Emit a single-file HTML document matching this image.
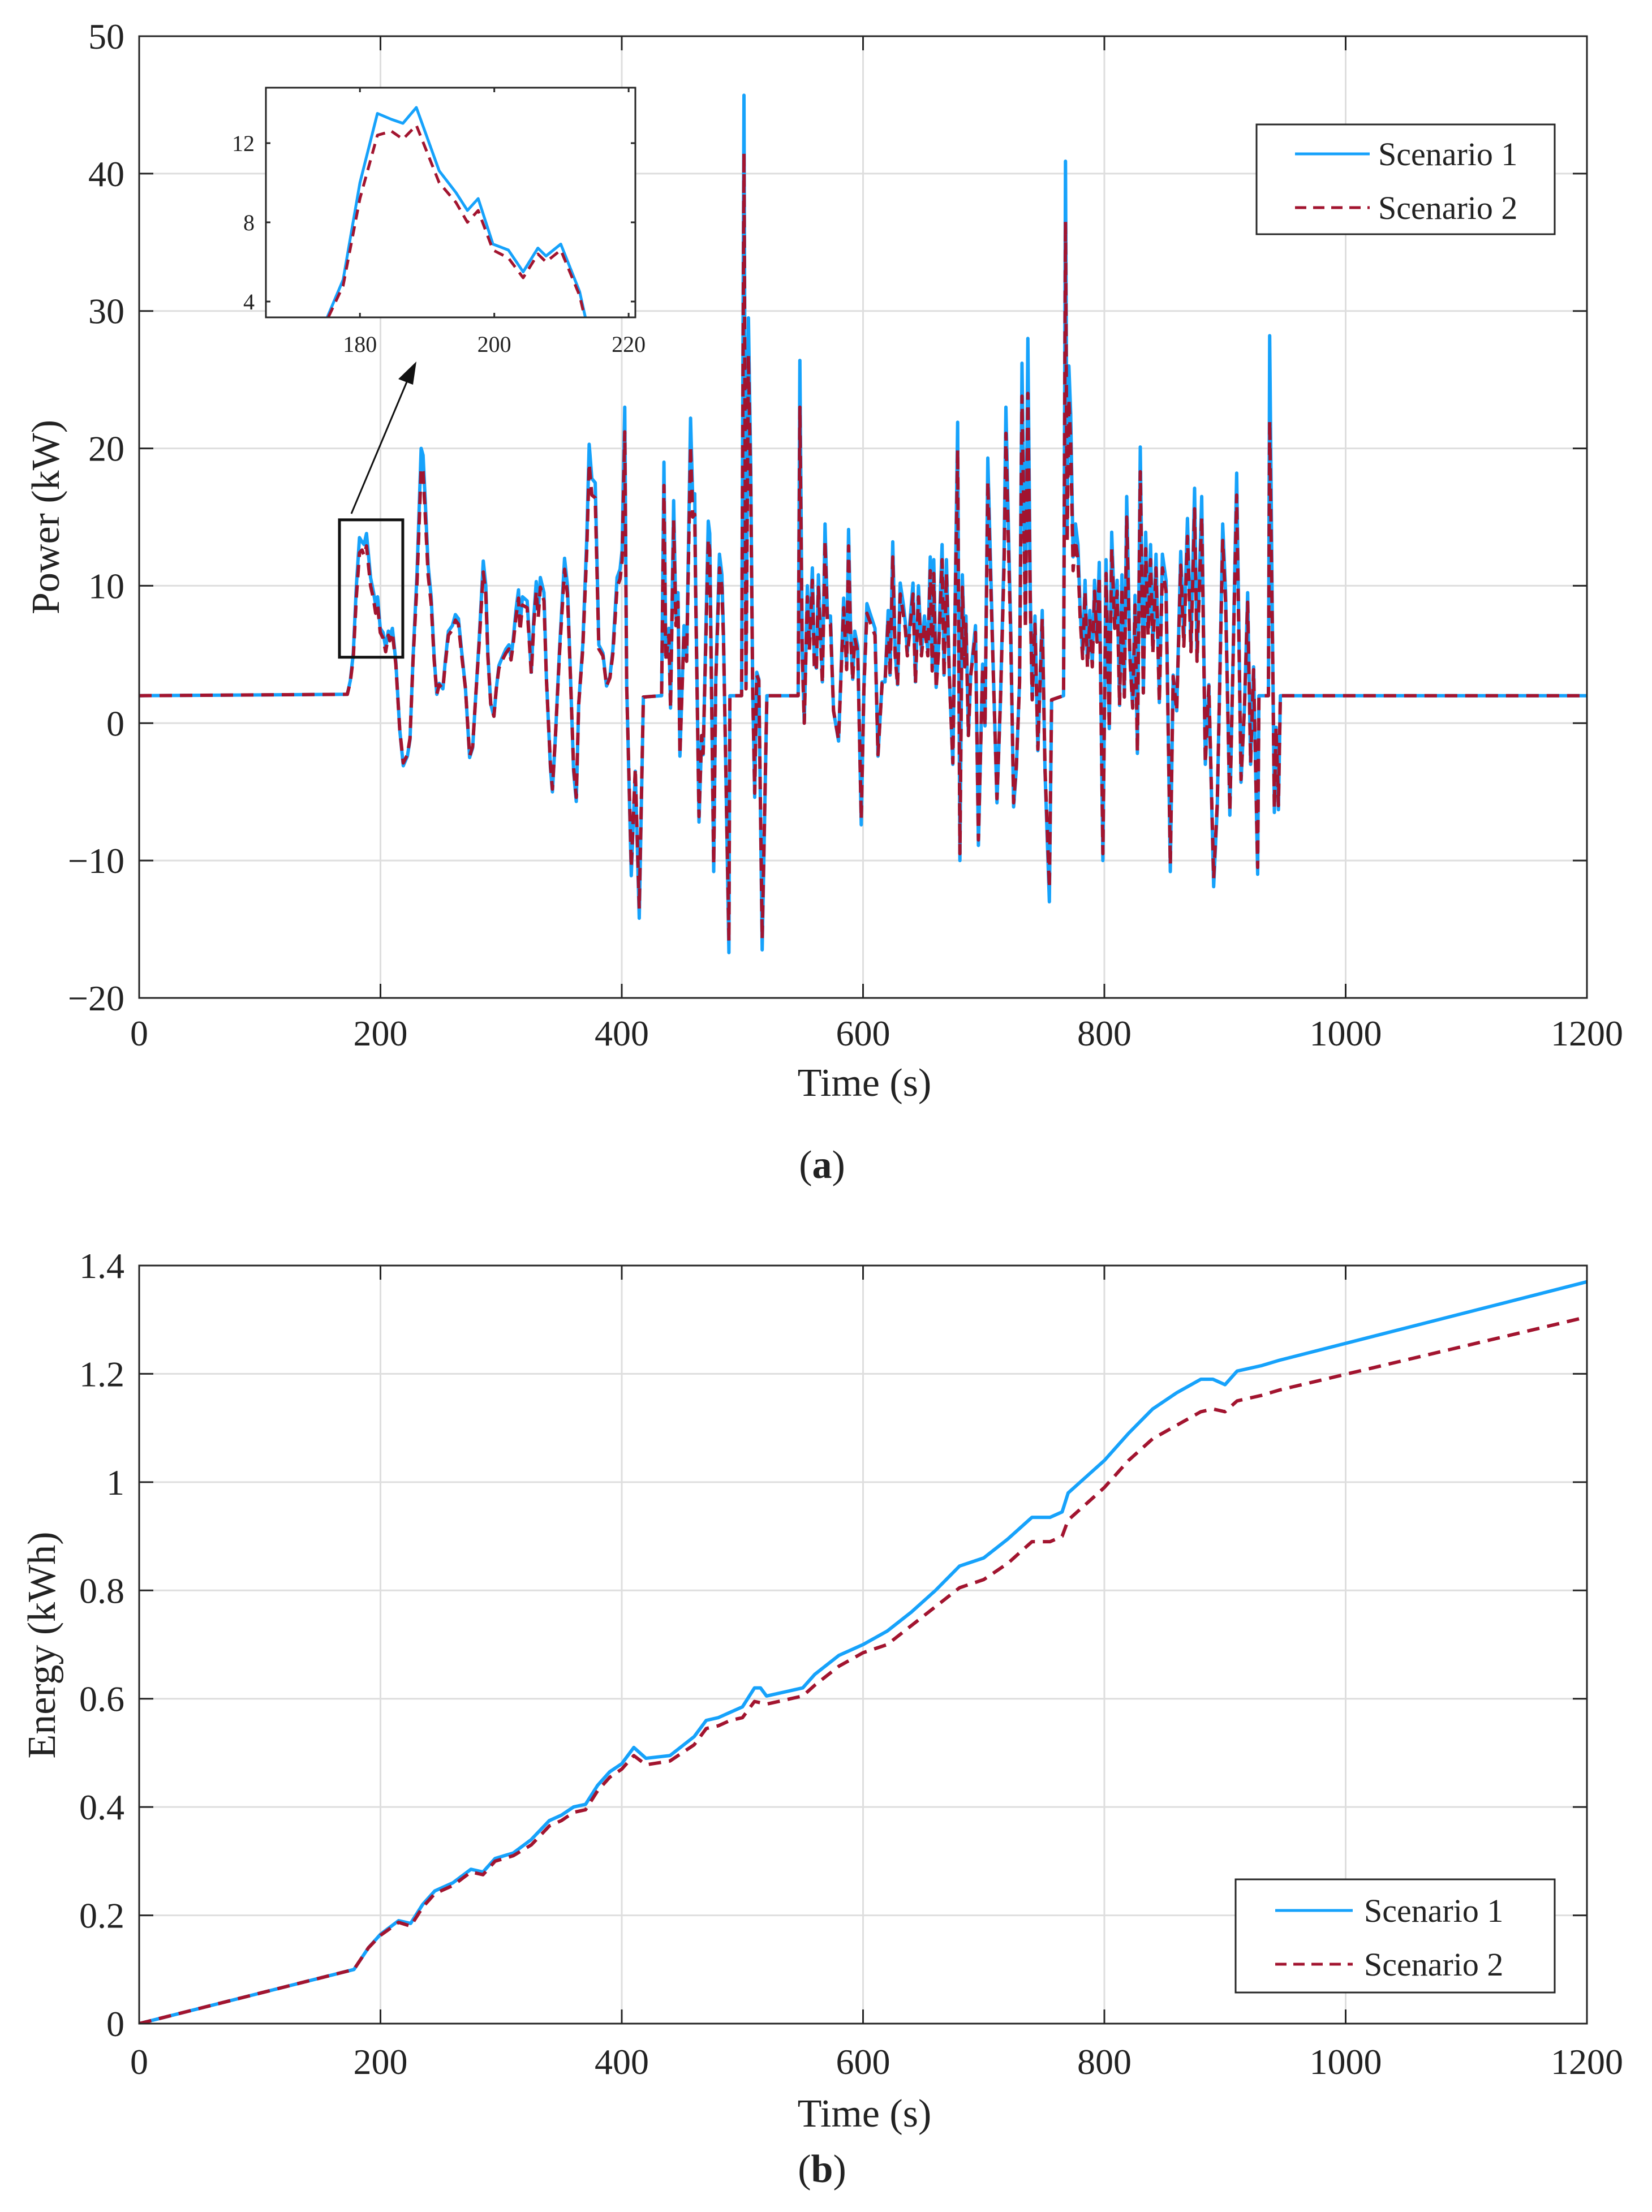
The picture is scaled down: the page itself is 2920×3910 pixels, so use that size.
<!DOCTYPE html>
<html><head><meta charset="utf-8"><style>
html,body{margin:0;padding:0;background:#fff;}
svg{display:block;font-family:"Liberation Serif",serif;}
</style></head><body>
<svg id="fig" width="2920" height="3910" viewBox="0 0 2920 3910" xmlns="http://www.w3.org/2000/svg"></svg>
<script>
// ---- Panel (a) data: power ----
const timePower = [
0,172.5,175,177.5,180,182.6,184.7,186.4,188.4,191.8,
194.3,196,197.6,199.8,202.1,204.3,206.5,207.7,209.9,212.7,
216,218.9,222.3,224.5,227,230.3,233.7,235.3,237,239.5,
242,244.5,246.7,248.7,251.7,253.7,256.3,259.6,262.1,264.6,
267.1,270.5,273.9,276.4,278.9,281.9,285.2,287.3,289,291.4,
294,296,298.2,301,304,306.5,308.2,309.9,312.4,314.4,
315.7,317.7,321.6,325,327.1,329.1,330.8,332.5,335.5,337.5,
340.9,342.5,345,348.4,352.6,355,357.6,360.1,362.3,364.3,
367.7,371,373,375.2,378,381,384.4,387.4,390.2,392.7,
396.1,398.6,400.3,402.5,404.1,404.8,407.9,411.2,414.5,417.9,
433,435,436.5,439,440.4,443,444.9,446.6,448.2,451.6,
453.8,457,458.8,460.5,461.2,464,466.2,467.5,471.7,472.9,
476.2,477.9,481,483,484.3,488.8,489.6,499.3,501.3,503,
505,506.9,508.5,510.2,511.9,513.6,516.4,520.3,546.2,547.6,
549.6,551.3,553.8,555.5,558,559.6,561.3,563,566.3,568.5,
570.5,573,575.5,579.7,583.9,586.4,588,589.7,591.4,593.1,
595.6,598.5,600.7,603.2,606.5,609.9,612.4,615.8,618.2,620.8,
622.4,624.6,626.6,628.6,630.8,633.3,635,636.7,638.4,641.4,
643.4,645.9,648.4,650.9,653.7,655.7,657.3,658.6,660.6,662.6,
665.5,667.1,669.1,671.5,674.4,676.4,678.4,680.3,682.3,684.3,
685.3,687.3,689.2,693.2,695.6,699.1,701.1,703.4,705.4,708,
711,713.9,716.9,718.4,720.8,722.4,724.8,727.1,729.7,731.7,
733.6,734.6,736.6,738.6,740.2,742.5,744.9,748.5,750.8,754.4,
756.3,766.2,767.8,769.2,770.6,772.1,774.1,776.1,778.1,780,
782,784,786,788,790,791.9,793.9,795.8,798.8,801.4,
804.1,806.1,808.6,810.6,812.6,814.6,816.6,818.5,821.1,823.5,
825.4,827.4,829.8,832.3,834.3,836.3,838.3,840.2,842.8,845.6,
848.1,851.1,854.7,857,860,863.3,865.9,868.9,871.8,874.8,
876.8,880.7,883.7,886.6,890.6,893.6,898.1,900.5,904,906.4,
909.7,913.3,916.2,918.8,921.2,923.7,927.1,928.1,936,937,
939.5,940.9,942.3,944.3,945.9,1200];
const powerScenario1 = [
2,2.1,3.1,5.1,10,13.5,13.2,13,13.8,10.6,
9.5,8.6,9.2,6.9,6.6,5.5,6.7,6.3,6.9,4.5,
-0.5,-3.1,-2.4,-1.2,4.8,10.9,20,19.5,16.4,11.5,
9.2,4.8,2.1,2.9,2.5,4.5,6.7,7.1,7.9,7.6,
5.4,2.5,-2.5,-1.8,1.9,6.3,11.8,10,5.1,1.4,
0.5,2.5,4.2,4.8,5.4,5.7,4.8,6,8.3,9.7,
7.1,9.2,8.9,3.7,7.7,10.3,8.2,10.6,9.5,3.4,
-3.3,-5,-1,5.4,12,10,3.1,-3.5,-5.7,1.4,
5.7,13.5,20.3,17.8,17.5,5.7,5.1,2.7,3.4,5.4,
10.6,11.2,12.6,23,2.8,0.2,-11.1,-3.5,-14.2,1.9,
2,19,4.8,6.9,1.1,16.2,7.6,9.5,-2.4,7.1,
4.8,22.2,16.4,16.7,10.4,-7.2,-0.9,-2.3,14.7,13.8,
-10.8,3,12.3,10.8,6.5,-16.7,2,2,45.7,2.6,
29.5,18.6,2.6,-5.4,3.7,3.2,-16.5,2,2,26.4,
5.2,0,10,5.7,11.3,4.4,4,10.8,3,14.5,
7.8,7.8,0.9,-1.3,9.1,4.1,14.1,6.9,3.2,6.7,
5.6,-7.4,2.6,8.7,7.8,6.9,-2.4,3,3,8.2,
3.5,13.2,5.2,2.8,10.2,8.7,7.4,5.2,6.9,10.2,
3,10,5.2,7.8,5.2,12.1,4,11.9,2.6,5.6,
13,3.5,11.9,3.5,-3,9.3,21.9,-10,10.8,4.3,
7.8,-0.9,3.5,7.1,-8.9,4.3,-0.2,19.3,12.5,3.7,
-5.8,1.7,12.5,23,13,6.9,-6.1,-3.3,3,26.2,
14.3,7.4,28,9.5,1.7,7.8,-2,8.2,-3.5,-13,
1.7,2,40.9,14.3,26,22.5,12.1,14.5,13,8.2,
5,10.4,4.3,8.2,4.3,10.4,6.3,11.7,-10,11.9,
-0.4,13.9,7.4,10.4,1.3,10.8,1.9,16.5,5.2,1.1,
9.3,-2.2,20.1,2.2,13.9,6.9,13,5.4,12.3,1.5,
12.3,10.4,-10.8,3.5,0.9,12.5,6,14.9,5.6,17.1,
4.8,16.5,-3,2.8,-11.9,-6.1,14.5,9.5,-6.7,3.5,
18.2,-4.3,1.3,9.5,-3,4.1,-11,2,2,28.2,
5.2,-6.5,-0.3,-6.3,2,2];
const powerScenario2 = [
2,2.1,3,4.8,9.2,12.4,12.6,12.2,12.9,10,
9,8,8.6,6.6,6.2,5.2,6.4,6,6.6,4.3,
-0.5,-2.9,-2.3,-1.1,4.6,10.2,18.6,18.3,15.4,10.8,
8.7,4.6,2.1,2.8,2.5,4.3,6.4,6.8,7.5,7.2,
5.1,2.5,-2.4,-1.7,1.9,6,11,9.4,4.9,1.4,
0.5,2.5,4,4.6,5.1,5.4,4.6,5.7,7.8,9.1,
6.7,8.6,8.4,3.6,7.2,9.6,7.7,9.9,8.9,3.3,
-3.1,-4.8,-1,5.1,11.2,9.4,3,-3.3,-5.4,1.4,
5.4,12.6,18.9,16.6,16.4,5.4,4.9,2.7,3.3,5.1,
9.9,10.5,11.8,21.2,2.7,0.2,-10.5,-3.3,-13.5,1.9,
2,17.3,4.5,6.4,1.1,14.8,7.1,8.8,-2.3,6.6,
4.5,20.2,15,15.2,9.6,-6.8,-0.9,-2.2,13.4,12.6,
-10.3,2.9,11.3,9.9,6.1,-15.9,2,2,41.5,2.5,
26.8,17,2.5,-5.1,3.5,3.1,-15.7,2,2,23,
4.9,0,9.2,5.3,10.4,4.2,3.8,9.9,2.9,13.3,
7.2,7.2,0.9,-1.2,8.4,3.9,12.9,6.4,3.1,6.2,
5.2,-7,2.5,8,7.2,6.4,-2.3,2.9,2.9,7.6,
3.4,12.1,4.9,2.7,9.4,8,6.9,4.9,6.4,9.4,
2.9,9.2,4.9,7.2,4.9,11.1,3.8,10.9,2.5,5.2,
11.9,3.4,10.9,3.4,-2.9,8.6,19.9,-9.5,9.9,4.1,
7.2,-0.9,3.4,6.6,-8.5,4.1,-0.2,17.6,11.5,3.5,
-5.5,1.7,11.5,21.1,11.9,6.4,-5.8,-3.1,2.9,23.8,
13.1,6.9,24,8.8,1.7,7.2,-1.9,7.6,-3.3,-12,
1.7,2,36.5,13.1,23.6,20.5,11.1,13.3,11.9,7.6,
4.7,9.6,4.1,7.6,4.1,9.6,5.9,10.7,-9.5,10.9,
-0.4,12.7,6.9,9.6,1.3,9.9,1.9,15,4.9,1.1,
8.6,-2.1,18.3,2.2,12.7,6.4,11.9,5.1,11.3,1.5,
11.3,9.6,-10.3,3.4,0.9,11.5,5.6,13.6,5.2,15.6,
4.5,15,-2.9,2.7,-11.3,-5.8,13.3,8.8,-6.4,3.4,
16.6,-4.1,1.3,8.8,-2.9,3.9,-10.5,2,2,22,
4.9,-6.2,-0.3,-6,2,2];
const powerXTicks = [0,200,400,600,800,1000,1200];
const powerYTicks = [-20,-10,0,10,20,30,40,50];
const insetXTicks = [180,200,220];
const insetYTicks = [4,8,12];

// ---- Panel (b) data: energy ----
const timeEnergy1 = [0,178,190,200,215,225,235,245,260,275,285,295,310,325,340,350,360,370,380,390,400,410,420,440,460,470,480,490,500,510,515,520,550,560,580,600,620,640,660,680,700,720,740,755,765,770,790,800,820,840,860,880,890,900,910,930,945,1200];
const energyScenario1 = [0,0.1,0.14,0.165,0.19,0.185,0.22,0.245,0.26,0.285,0.28,0.305,0.315,0.34,0.375,0.385,0.40,0.405,0.44,0.465,0.48,0.51,0.49,0.495,0.53,0.56,0.565,0.575,0.585,0.62,0.62,0.605,0.62,0.645,0.68,0.70,0.725,0.76,0.80,0.845,0.86,0.895,0.935,0.935,0.945,0.98,1.02,1.04,1.09,1.135,1.165,1.19,1.19,1.18,1.205,1.215,1.225,1.37];
const timeEnergy2 = [0,178,190,200,215,225,235,245,260,275,285,295,310,325,340,350,360,370,380,390,400,410,420,440,460,470,480,490,500,510,520,550,560,580,600,620,640,660,680,700,720,740,755,765,770,790,800,820,840,860,880,890,900,910,930,945,1200];
const energyScenario2 = [0,0.1,0.14,0.163,0.187,0.18,0.215,0.24,0.255,0.28,0.275,0.30,0.31,0.33,0.365,0.375,0.39,0.395,0.43,0.455,0.47,0.495,0.478,0.485,0.515,0.545,0.55,0.56,0.565,0.595,0.59,0.605,0.625,0.66,0.685,0.70,0.735,0.77,0.805,0.82,0.85,0.89,0.89,0.90,0.93,0.97,0.99,1.04,1.08,1.105,1.13,1.135,1.13,1.15,1.16,1.17,1.305];
const energyXTicks = [0,200,400,600,800,1000,1200];
const energyYTicks = [0,0.2,0.4,0.6,0.8,1,1.2,1.4];
const energyYLabels = ["0","0.2","0.4","0.6","0.8","1","1.2","1.4"];

const NS = "http://www.w3.org/2000/svg";
const svg = document.getElementById('fig');
const BLUE = "#16a2fb", RED = "#a2142f", AX = "#262626", GRID = "#dedede";
function mk(tag, attrs, parent) {
  const e = document.createElementNS(NS, tag);
  for (const k in attrs) e.setAttribute(k, attrs[k]);
  (parent || svg).appendChild(e);
  return e;
}
function fmtMinus(v){ return v < 0 ? "\u2212" + Math.abs(v) : String(v); }
function linScale(d0, d1, r0, r1){ return v => r0 + (v - d0) * (r1 - r0) / (d1 - d0); }

function drawAxesFrame(g, L, R, T, B, xs, ys, xt, yt, tickLen, prefix){
  xt.forEach(v => { const x = xs(v);
    const l = mk('line', {x1:x, x2:x, y1:T, y2:B, stroke:GRID, 'stroke-width':3}, g);
    
     });
  yt.forEach(v => { const y = ys(v);
    const l = mk('line', {x1:L, x2:R, y1:y, y2:y, stroke:GRID, 'stroke-width':3}, g);
    
     });
}
function drawFrameTicks(g, L, R, T, B, xs, ys, xt, yt, tickLen, prefix, sw){
  xt.forEach(v => { const x = xs(v);
    const t1 = mk('line', {x1:x, x2:x, y1:B, y2:B - tickLen, stroke:AX, 'stroke-width':sw}, g);
    
    
    const t2 = mk('line', {x1:x, x2:x, y1:T, y2:T + tickLen, stroke:AX, 'stroke-width':sw}, g);
    
     });
  yt.forEach(v => { const y = ys(v);
    const t1 = mk('line', {x1:L, x2:L + tickLen, y1:y, y2:y, stroke:AX, 'stroke-width':sw}, g);
    
    
    const t2 = mk('line', {x1:R, x2:R - tickLen, y1:y, y2:y, stroke:AX, 'stroke-width':sw}, g);
    
     });
  const fr = mk('rect', {x:L, y:T, width:R-L, height:B-T, fill:'none', stroke:AX, 'stroke-width':sw}, g);
  
  
}
function pathD(ts, vs, xs, ys){
  const n = Math.min(ts.length, vs.length);
  let d = "";
  for (let i = 0; i < n; i++) d += (i ? "L" : "M") + xs(ts[i]).toFixed(1) + "," + ys(vs[i]).toFixed(1);
  return d;
}
function text(g, x, y, str, size, anchor, name, extra){
  const t = mk('text', Object.assign({x:x, y:y, 'font-size':size, 'text-anchor':anchor, fill:'#222'}, extra || {}), g);
  t.textContent = str;
  
  
  return t;
}

// ================= Panel (a) =================
const A = {L:246, R:2805, T:64, B:1764};
const ax = linScale(0, 1200, A.L, A.R), ay = linScale(-20, 50, A.B, A.T);
const gA = mk('g', {});


mk('rect', {x:A.L, y:A.T, width:A.R-A.L, height:A.B-A.T, fill:'#fff'}, gA);
drawAxesFrame(gA, A.L, A.R, A.T, A.B, ax, ay, powerXTicks, powerYTicks, 25, 'power');
const cpA = mk('clipPath', {id:'clipA'}, gA);
mk('rect', {x:A.L, y:A.T, width:A.R-A.L, height:A.B-A.T}, cpA);
const s1a = mk('path', {d:pathD(timePower, powerScenario1, ax, ay), fill:'none', stroke:BLUE, 'stroke-width':6, 'stroke-linejoin':'round', 'clip-path':'url(#clipA)'}, gA);


const s2a = mk('path', {d:pathD(timePower, powerScenario2, ax, ay), fill:'none', stroke:RED, 'stroke-width':6, 'stroke-dasharray':'22 14', 'stroke-linejoin':'round', 'clip-path':'url(#clipA)'}, gA);


drawFrameTicks(gA, A.L, A.R, A.T, A.B, ax, ay, powerXTicks, powerYTicks, 25, 'power', 3);
powerXTicks.forEach(v => text(gA, ax(v), 1848, String(v), 64, 'middle', 'power-x-tick-label'));
powerYTicks.forEach(v => text(gA, 220, ay(v) + 22, fmtMinus(v), 64, 'end', 'power-y-tick-label'));
text(gA, 1528, 1937, 'Time (s)', 70, 'middle', 'power-x-axis-title');
text(gA, 0, 0, 'Power (kW)', 70, 'middle', 'power-y-axis-title', {transform:'translate(104,914) rotate(-90)'});
const capA = text(gA, 1453, 2082, '', 70, 'middle', 'panel-a-caption');
capA.innerHTML = '(<tspan font-weight="bold">a</tspan>)';

const zr = mk('rect', {x:ax(166), y:ay(14.8), width:ax(218.5)-ax(166), height:ay(4.8)-ay(14.8), fill:'none', stroke:'#111', 'stroke-width':5}, gA);


const arr = mk('line', {x1:621, y1:908, x2:722, y2:668, stroke:'#111', 'stroke-width':3}, gA);


const ah = mk('polygon', {points:'736,639 704,670 730,680', fill:'#111'}, gA);



// inset
const I = {L:470, R:1123, T:155, B:561};
const ix = linScale(166, 221, I.L, I.R), iy = linScale(3.2, 14.8, I.B, I.T);
const gI = mk('g', {});


const ibg = mk('rect', {x:I.L, y:I.T, width:I.R-I.L, height:I.B-I.T, fill:'#fff'}, gI);


const cpI = mk('clipPath', {id:'clipI'}, gI);
mk('rect', {x:I.L, y:I.T, width:I.R-I.L, height:I.B-I.T}, cpI);
const s1i = mk('path', {d:pathD(timePower, powerScenario1, ix, iy), fill:'none', stroke:BLUE, 'stroke-width':5, 'stroke-linejoin':'round', 'clip-path':'url(#clipI)'}, gI);


const s2i = mk('path', {d:pathD(timePower, powerScenario2, ix, iy), fill:'none', stroke:RED, 'stroke-width':5, 'stroke-dasharray':'18 12', 'stroke-linejoin':'round', 'clip-path':'url(#clipI)'}, gI);


drawFrameTicks(gI, I.L, I.R, I.T, I.B, ix, iy, insetXTicks, insetYTicks, 8, 'inset', 3);
insetXTicks.forEach(v => text(gI, ix(v), 622, String(v), 40, 'middle', 'inset-x-tick-label'));
insetYTicks.forEach(v => text(gI, 450, iy(v) + 14, String(v), 40, 'end', 'inset-y-tick-label'));

function legend(x, y, w, h, l1y, l2y, lx1, lx2, tx, prefix){
  const g = mk('g', {});
  
  
  const b = mk('rect', {x:x, y:y, width:w, height:h, fill:'#fff', stroke:AX, 'stroke-width':3}, g);
  
  
  const a1 = mk('line', {x1:lx1, x2:lx2, y1:l1y, y2:l1y, stroke:BLUE, 'stroke-width':5}, g);
  
  
  const a2 = mk('line', {x1:lx1, x2:lx2, y1:l2y, y2:l2y, stroke:RED, 'stroke-width':5, 'stroke-dasharray':'20 12'}, g);
  
  
  text(g, tx, l1y + 20, 'Scenario 1', 58, 'start', prefix + '-legend-label-1');
  text(g, tx, l2y + 20, 'Scenario 2', 58, 'start', prefix + '-legend-label-2');
}
legend(2221, 220, 527, 194, 272, 367, 2289, 2421, 2436, 'power');

// ================= Panel (b) =================
const Bx = {L:246, R:2805, T:2237, B:3577};
const bx = linScale(0, 1200, Bx.L, Bx.R), by = linScale(0, 1.4, Bx.B, Bx.T);
const gB = mk('g', {});


drawAxesFrame(gB, Bx.L, Bx.R, Bx.T, Bx.B, bx, by, energyXTicks, energyYTicks, 25, 'energy');
const cpB = mk('clipPath', {id:'clipB'}, gB);
mk('rect', {x:Bx.L, y:Bx.T, width:Bx.R-Bx.L, height:Bx.B-Bx.T}, cpB);
const e1 = mk('path', {d:pathD(timeEnergy1, energyScenario1, bx, by), fill:'none', stroke:BLUE, 'stroke-width':6, 'stroke-linejoin':'round', 'clip-path':'url(#clipB)'}, gB);


const e2 = mk('path', {d:pathD(timeEnergy2, energyScenario2, bx, by), fill:'none', stroke:RED, 'stroke-width':6, 'stroke-dasharray':'22 14', 'stroke-linejoin':'round', 'clip-path':'url(#clipB)'}, gB);


drawFrameTicks(gB, Bx.L, Bx.R, Bx.T, Bx.B, bx, by, energyXTicks, energyYTicks, 25, 'energy', 3);
energyXTicks.forEach(v => text(gB, bx(v), 3666, String(v), 64, 'middle', 'energy-x-tick-label'));
energyYTicks.forEach((v, i) => text(gB, 220, by(v) + 22, energyYLabels[i], 64, 'end', 'energy-y-tick-label'));
text(gB, 1528, 3759, 'Time (s)', 70, 'middle', 'energy-x-axis-title');
text(gB, 0, 0, 'Energy (kWh)', 70, 'middle', 'energy-y-axis-title', {transform:'translate(97,2908) rotate(-90)'});
const capB = text(gB, 1453, 3857, '', 70, 'middle', 'panel-b-caption');
capB.innerHTML = '(<tspan font-weight="bold">b</tspan>)';
legend(2184, 3322, 564, 200, 3377, 3472, 2254, 2391, 2411, 'energy');
</script>
</body></html>
